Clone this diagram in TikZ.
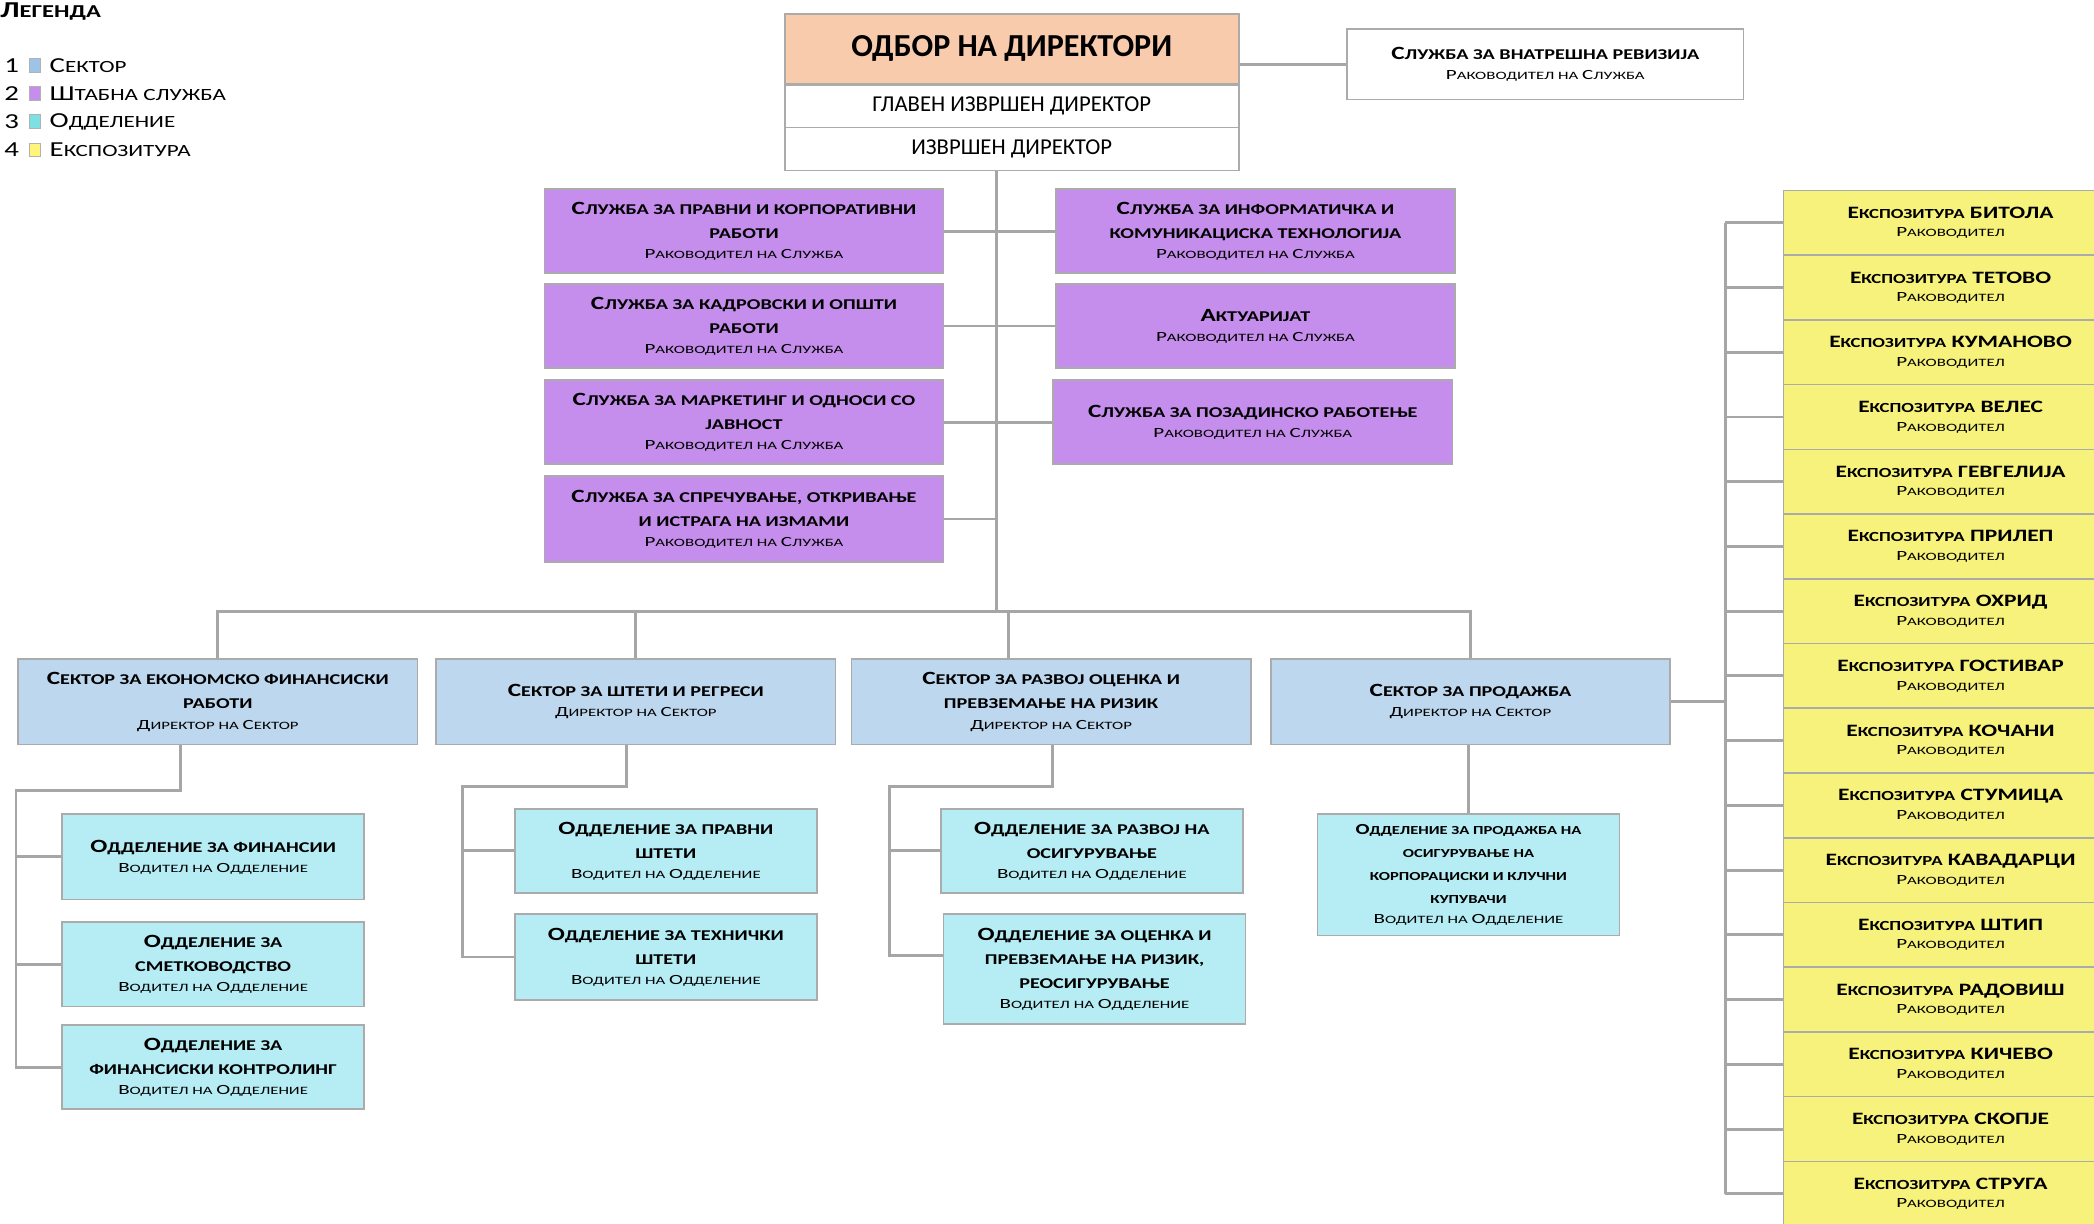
\documentclass[tikz,border=0pt]{standalone}
\usepackage{fontspec}
\setmainfont{Carlito}[FakeStretch=1.35]
\newfontfamily\lcfont{Carlito}[FakeStretch=1.35,Scale=0.8]
\newfontfamily\subfont{Carlito}[FakeStretch=1.5]
\newfontfamily\sublcfont{Carlito}[FakeStretch=1.5,Scale=0.8]
\newfontfamily\topfont{Carlito}
\let\curlc\lcfont
\newcommand\lc[1]{{\curlc\MakeUppercase{#1}}}
\newcommand\subl[1]{{\fontsize{10.5}{15}\selectfont\subfont\mdseries\let\curlc\sublcfont #1}}
\definecolor{peach}{HTML}{F8CBAD}
\definecolor{cpur}{HTML}{C58EEC}
\definecolor{cblue}{HTML}{BDD7EE}
\definecolor{ccyan}{HTML}{B6EDF5}
\definecolor{cyel}{HTML}{F7F27B}
\definecolor{bgray}{HTML}{ABABAB}
\definecolor{lgray}{HTML}{A6A6A6}
\definecolor{lgA}{HTML}{9DC3E6}
\definecolor{lgB}{HTML}{C58EEC}
\definecolor{lgC}{HTML}{7DE0E3}
\definecolor{lgD}{HTML}{FFF57A}
\tikzset{
  bx/.style={draw=bgray, line width=1.2pt, anchor=north west, align=center, inner sep=1pt,
    font=\fontsize{14}{18}\selectfont\bfseries},
  conn/.style={draw=lgray, line width=2.2pt},
  legtxt/.style={anchor=west, inner sep=0pt, font=\fontsize{16}{18}\selectfont},
  legsq/.style={draw=gray!60, line width=0.6pt, minimum width=8pt, minimum height=10pt, inner sep=0pt},
}
\begin{document}
\begin{tikzpicture}[x=1pt,y=-1pt]
\useasboundingbox (0,0) rectangle (1568,916.5);
% legend
\node[legtxt, font=\fontsize{17}{18}\selectfont\bfseries] (leg) at (0,9) {Л\lc{егенда}};
\node[legtxt] (ln1) at (3,49) {1};
\node[legsq, fill=lgA] (ls1) at (26,49) {};
\node[legtxt] (lt1) at (37,49) {С\lc{ектор}};
\node[legtxt] (ln2) at (3,70) {2};
\node[legsq, fill=lgB] (ls2) at (26,70) {};
\node[legtxt] (lt2) at (37,70) {Ш\lc{табна служба}};
\node[legtxt] (ln3) at (3,91) {3};
\node[legsq, fill=lgC] (ls3) at (26,91) {};
\node[legtxt] (lt3) at (37,91) {О\lc{дделение}};
\node[legtxt] (ln4) at (3,112) {4};
\node[legsq, fill=lgD] (ls4) at (26,112) {};
\node[legtxt] (lt4) at (37,112) {Е\lc{кспозитура}};

% top block
\node[bx, fill=peach, minimum width=340pt, minimum height=52pt, font=\fontsize{24}{26}\selectfont\topfont\bfseries] (odbor) at (587,10) {ОДБОР НА ДИРЕКТОРИ};
\node[bx, fill=white, minimum width=340pt, minimum height=32pt, font=\fontsize{17}{19}\selectfont\topfont] (glaven) at (587,63) {ГЛАВЕН ИЗВРШЕН ДИРЕКТОР};
\node[bx, fill=white, minimum width=340pt, minimum height=32pt, font=\fontsize{17}{19}\selectfont\topfont] (izv) at (587,95) {ИЗВРШЕН ДИРЕКТОР};
\node[bx, fill=white, minimum width=297pt, minimum height=53pt] (rev) at (1008,21) {С\lc{лужба за внатрешна ревизија}\\[-3pt]\subl{Р\lc{аководител на }С\lc{лужба}}};

% staff services
\node[bx, fill=cpur, minimum width=299pt, minimum height=63pt] (p1) at (407,141) {С\lc{лужба за правни и корпоративни}\\ \lc{работи}\\[-3pt]\subl{Р\lc{аководител на }С\lc{лужба}}};
\node[bx, fill=cpur, minimum width=299pt, minimum height=63pt] (p2) at (407,212) {С\lc{лужба за кадровски и општи}\\ \lc{работи}\\[-3pt]\subl{Р\lc{аководител на }С\lc{лужба}}};
\node[bx, fill=cpur, minimum width=299pt, minimum height=63pt] (p3) at (407,284) {С\lc{лужба за маркетинг и односи со}\\ \lc{јавност}\\[-3pt]\subl{Р\lc{аководител на }С\lc{лужба}}};
\node[bx, fill=cpur, minimum width=299pt, minimum height=64pt] (p4) at (407,356) {С\lc{лужба за спречување, откривање}\\ \lc{и истрага на измами}\\[-3pt]\subl{Р\lc{аководител на }С\lc{лужба}}};
\node[bx, fill=cpur, minimum width=299pt, minimum height=63pt] (q1) at (790,141) {С\lc{лужба за информатичка и}\\ \lc{комуникациска технологија}\\[-3pt]\subl{Р\lc{аководител на }С\lc{лужба}}};
\node[bx, fill=cpur, minimum width=299pt, minimum height=63pt] (q2) at (790,212) {А\lc{ктуаријат}\\[-3pt]\subl{Р\lc{аководител на }С\lc{лужба}}};
\node[bx, fill=cpur, minimum width=299pt, minimum height=63pt] (q3) at (788,284) {С\lc{лужба за позадинско работење}\\[-3pt]\subl{Р\lc{аководител на }С\lc{лужба}}};

% sectors
\node[bx, fill=cblue, minimum width=299pt, minimum height=64pt] (sec1) at (13,493) {С\lc{ектор за економско финансиски}\\ \lc{работи}\\[-3pt]\subl{Д\lc{иректор на }С\lc{ектор}}};
\node[bx, fill=cblue, minimum width=299pt, minimum height=64pt] (sec2) at (326,493) {С\lc{ектор за штети и регреси}\\[-3pt]\subl{Д\lc{иректор на }С\lc{ектор}}};
\node[bx, fill=cblue, minimum width=299pt, minimum height=64pt] (sec3) at (637,493) {С\lc{ектор за развој оценка и}\\ \lc{превземање на ризик}\\[-3pt]\subl{Д\lc{иректор на }С\lc{ектор}}};
\node[bx, fill=cblue, minimum width=299pt, minimum height=64pt] (sec4) at (951,493) {С\lc{ектор за продажба}\\[-3pt]\subl{Д\lc{иректор на }С\lc{ектор}}};

% departments
\node[bx, fill=ccyan, minimum width=226pt, minimum height=64pt] (d1) at (46,609) {О\lc{дделение за финансии}\\[-3pt]\subl{В\lc{одител на }О\lc{дделение}}};
\node[bx, fill=ccyan, minimum width=226pt, minimum height=63pt] (d2) at (46,690) {О\lc{дделение за}\\ \lc{сметководство}\\[-3pt]\subl{В\lc{одител на }О\lc{дделение}}};
\node[bx, fill=ccyan, minimum width=226pt, minimum height=63pt] (d3) at (46,767) {О\lc{дделение за}\\ \lc{финансиски контролинг}\\[-3pt]\subl{В\lc{одител на }О\lc{дделение}}};
\node[bx, fill=ccyan, minimum width=226pt, minimum height=63pt] (d4) at (385,605) {О\lc{дделение за правни}\\ \lc{штети}\\[-3pt]\subl{В\lc{одител на }О\lc{дделение}}};
\node[bx, fill=ccyan, minimum width=226pt, minimum height=64pt] (d5) at (385,684) {О\lc{дделение за технички}\\ \lc{штети}\\[-3pt]\subl{В\lc{одител на }О\lc{дделение}}};
\node[bx, fill=ccyan, minimum width=226pt, minimum height=63pt] (d6) at (704,605) {О\lc{дделение за развој на}\\ \lc{осигурување}\\[-3pt]\subl{В\lc{одител на }О\lc{дделение}}};
\node[bx, fill=ccyan, minimum width=226pt, minimum height=82pt] (d7) at (706,684) {О\lc{дделение за оценка и}\\ \lc{превземање на ризик,}\\ \lc{реосигурување}\\[-3pt]\subl{В\lc{одител на }О\lc{дделение}}};
\node[bx, fill=ccyan, minimum width=226pt, minimum height=91pt, font=\fontsize{11.5}{17}\selectfont\bfseries] (d8) at (986,609) {О\lc{дделение за продажба на}\\ \lc{осигурување на}\\ \lc{корпорациски и клучни}\\ \lc{купувачи}\\[-2pt]\subl{В\lc{одител на }О\lc{дделение}}};

% exposures
\foreach \nm [count=\i] in {БИТОЛА,ТЕТОВО,КУМАНОВО,ВЕЛЕС,ГЕВГЕЛИЈА,ПРИЛЕП,ОХРИД,ГОСТИВАР,КОЧАНИ,СТУМИЦА,КАВАДАРЦИ,ШТИП,РАДОВИШ,КИЧЕВО,СКОПЈЕ,СТРУГА}{
  \pgfmathsetmacro\yy{142+48.47*(\i-1)}
  \node[bx, fill=cyel, minimum width=250pt, minimum height=48.47pt, font=\fontsize{13}{17}\selectfont\bfseries] (e\i) at (1335,\yy) {Е\lc{кспозитура} \nm\\[-3pt]\subl{Р\lc{аководител}}};
}

% connectors: top
\draw[conn] (odbor.east |- rev.west) -- (rev.west);
\coordinate (sp) at (746,458);
\draw[conn] (sp |- izv.south) -- (sp);
\draw[conn] (p1.east) -- (q1.west);
\draw[conn] (p2.east) -- (q2.west);
\draw[conn] (p3.east) -- (q3.west);
\draw[conn] (p4.east) -- (p4.east -| sp);
% bus to sectors
\draw[conn] (sec1.north) |- (sp) -| (sec4.north);
\draw[conn] (sec2.north) -- (sec2.north |- sp);
\coordinate (s3drop) at (755,458);
\draw[conn] (s3drop) -- (s3drop |- sec3.north);
% sector 1 departments
\coordinate (k1) at (135,592);
\coordinate (r1) at (12,592);
\draw[conn] (k1 |- sec1.south) |- (r1) |- (d3.west);
\draw[conn] (r1 |- d1.west) -- (d1.west);
\draw[conn] (r1 |- d2.west) -- (d2.west);
% sector 2 departments
\coordinate (k2) at (469,589);
\coordinate (r2) at (346,589);
\draw[conn] (k2 |- sec2.south) |- (r2) |- (d5.west);
\draw[conn] (r2 |- d4.west) -- (d4.west);
% sector 3 departments
\coordinate (k3) at (788,589);
\coordinate (r3) at (666,589);
\draw[conn] (k3 |- sec3.south) |- (r3) |- ([yshift=10pt]d7.west);
\draw[conn] (r3 |- d6.west) -- (d6.west);
% sector 4
\draw[conn] (d8.north |- sec4.south) -- (d8.north);
\coordinate (ex) at (1292,0);
\draw[conn] (sec4.east) -- (sec4.east -| ex);
\draw[conn] (ex |- e1.west) -- (ex |- e16.west);
\foreach \i in {1,...,16} \draw[conn] (ex |- e\i.west) -- (e\i.west);
\end{tikzpicture}
\end{document}
